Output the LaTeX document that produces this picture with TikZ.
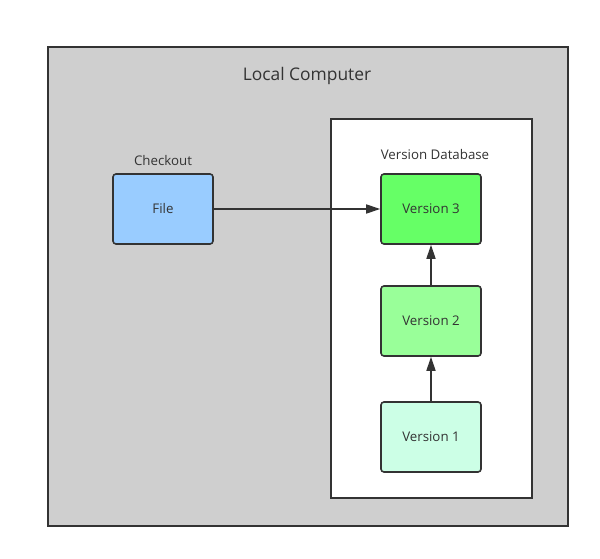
\documentclass[tikz,border=0pt]{standalone}
\usepackage{fontspec}
\setmainfont{Open Sans}
\usetikzlibrary{arrows.meta}
\definecolor{linec}{HTML}{333333}
\definecolor{bggray}{HTML}{CFCFCF}
\definecolor{fileblue}{HTML}{99CCFF}
\definecolor{vthree}{HTML}{66FF66}
\definecolor{vtwo}{HTML}{99FF99}
\definecolor{vone}{HTML}{CCFFE6}
\tikzset{
  box/.style={draw=linec, line width=1.6pt, rounded corners=3pt, minimum width=100pt, minimum height=70pt, inner sep=0pt, font=\fontsize{13.3}{15}\selectfont, text=linec},
  lbl/.style={font=\fontsize{13.3}{15}\selectfont, text=linec, inner sep=0pt},
  conn/.style={draw=linec, line width=1.6pt, -{Triangle[length=14pt,width=9pt]}}
}
\begin{document}
\begin{tikzpicture}[x=1pt,y=-1pt]
\useasboundingbox (0,0) rectangle (600,559);
\fill[white] (0,0) rectangle (600,559);
\draw[draw=linec, fill=bggray, line width=2pt] (48,47) rectangle (568,526);
\draw[draw=linec, fill=white, line width=1.6pt] (331,119) rectangle (532,498);
\node[lbl, font=\fontsize{17.4}{20}\selectfont] (local) at (307,76) {Local Computer};
\node[lbl] (checkout) at (163,161) {Checkout};
\node[lbl] (vdb) at (435,155) {Version Database};
\node[box, fill=fileblue] (file) at (163,209) {File};
\node[box, fill=vthree] (v3) at (431,209) {Version 3};
\node[box, fill=vtwo] (v2) at (431,321) {Version 2};
\node[box, fill=vone] (v1) at (431,437) {Version 1};
\draw[conn] (file) -- (v3);
\draw[conn] (v2) -- (v3);
\draw[conn] (v1) -- (v2);
\end{tikzpicture}
\end{document}
